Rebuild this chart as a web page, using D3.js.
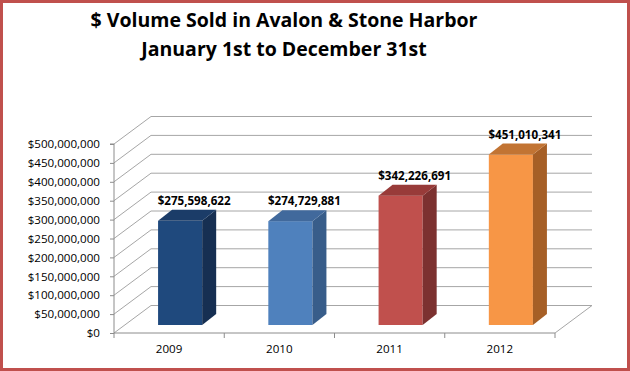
<!DOCTYPE html>
<html>
<head>
<meta charset="utf-8">
<script src="https://cdn.jsdelivr.net/npm/d3@7"></script>
<style>
  body { margin: 0; background: #fff; }
  svg { display: block; }
</style>
</head>
<body>
<svg id="chart"></svg>
<script>
var years = ["2009", "2010", "2011", "2012"];
var volumes = [275598622, 274729881, 342226691, 451010341];
var yTicks = [0, 50000000, 100000000, 150000000, 200000000, 250000000,
              300000000, 350000000, 400000000, 450000000, 500000000];
var titleLines = ["$ Volume Sold in Avalon & Stone Harbor", "January 1st to December 31st"];
var frontColors = ["#1f497d", "#4f81bd", "#c0504d", "#f79646"];
var sideColors = ["#162f52", "#385d8a", "#7c3130", "#a65f26"];
var topColors = ["#1b3c68", "#41699c", "#983b39", "#c27433"];

function drawChart() {
  var width = 630, height = 371;
  var svg = d3.select("#chart").attr("width", width).attr("height", height);

  // wall depth and bar depth offsets
  var wallDx = 37, wallDy = -27.5;
  var barShiftX = 11, barShiftY = -8;
  var barDx = 14, barDy = -11;

  var x = d3.scaleBand().domain(years).range([114, 555]);
  var y = d3.scaleLinear().domain([0, 500000000]).range([333, 144]);
  var fmt = d3.format("$,");
  var grid = "#a6a6a6";

  // left wall diagonals
  svg.append("g").selectAll("line").data(yTicks).enter().append("line")
    .attr("x1", x.range()[0]).attr("y1", function(d) { return y(d); })
    .attr("x2", x.range()[0] + wallDx).attr("y2", function(d) { return y(d) + wallDy; })
    .attr("stroke", grid).attr("stroke-width", 1);

  // back wall gridlines
  svg.append("g").selectAll("line").data(yTicks).enter().append("line")
    .attr("x1", x.range()[0] + wallDx).attr("y1", function(d) { return y(d) + wallDy; })
    .attr("x2", x.range()[1] + wallDx).attr("y2", function(d) { return y(d) + wallDy; })
    .attr("stroke", grid).attr("stroke-width", 1);

  // floor right edge
  svg.append("line")
    .attr("x1", x.range()[1]).attr("y1", y(0))
    .attr("x2", x.range()[1] + wallDx).attr("y2", y(0) + wallDy)
    .attr("stroke", grid).attr("stroke-width", 1);

  // y axis
  var yAxis = d3.axisLeft(y).tickValues(yTicks).tickFormat(fmt).tickSize(4).tickPadding(10);
  var gy = svg.append("g").attr("transform", "translate(" + x.range()[0] + ",0)").call(yAxis);
  gy.select(".domain").attr("stroke", "#8c8c8c").attr("d", "M-4," + y(500000000) + "H0V" + y(0));
  gy.selectAll(".tick line").attr("stroke", "#8c8c8c");
  gy.selectAll("text").attr("font-family", "Open Sans").attr("font-size", "11.6px").attr("fill", "#000");

  // x axis
  var xAxis = d3.axisBottom(x).tickSize(0).tickPadding(12);
  var gx = svg.append("g").attr("transform", "translate(0," + y(0) + ")").call(xAxis);
  gx.select(".domain").attr("stroke", "#8c8c8c").attr("d", "M" + x.range()[0] + ",0H" + x.range()[1]);
  gx.selectAll("text").attr("font-family", "Open Sans").attr("font-size", "11.6px").attr("fill", "#000");
  svg.append("g").selectAll("line").data(years).enter().append("line")
    .attr("x1", function(d) { return x(d) + x.bandwidth(); })
    .attr("x2", function(d) { return x(d) + x.bandwidth(); })
    .attr("y1", y(0)).attr("y2", y(0) + 5)
    .attr("stroke", "#8c8c8c");
  svg.append("line").attr("x1", x.range()[0]).attr("x2", x.range()[0])
    .attr("y1", y(0)).attr("y2", y(0) + 5).attr("stroke", "#8c8c8c");

  // bars
  var bw = x.bandwidth() * 0.4;
  var bars = svg.append("g").selectAll("g").data(years).enter().append("g");
  bars.each(function(d, i) {
    var g = d3.select(this);
    var x0 = x(d) + (x.bandwidth() - bw) / 2 + barShiftX;
    var x1 = x0 + bw;
    var yb = y(0) + barShiftY;
    var yt = y(volumes[i]) + barShiftY;
    g.append("rect").attr("x", x0).attr("y", yt).attr("width", bw).attr("height", yb - yt)
      .attr("fill", frontColors[i]);
    g.append("path")
      .attr("d", "M" + x1 + "," + yt + "L" + (x1 + barDx) + "," + (yt + barDy) +
                 "L" + (x1 + barDx) + "," + (yb + barDy) + "L" + x1 + "," + yb + "Z")
      .attr("fill", sideColors[i]);
    g.append("path")
      .attr("d", "M" + x0 + "," + yt + "L" + (x0 + barDx) + "," + (yt + barDy) +
                 "L" + (x1 + barDx) + "," + (yt + barDy) + "L" + x1 + "," + yt + "Z")
      .attr("fill", topColors[i]);
    g.append("text")
      .attr("x", x0 + bw / 2 + barDx)
      .attr("y", yt + barDy - 5)
      .attr("text-anchor", "middle")
      .attr("font-family", "Open Sans").attr("font-weight", "bold").attr("font-size", "11.6px")
      .text(fmt(volumes[i]));
  });

  // title
  svg.append("g").selectAll("text").data(titleLines).enter().append("text")
    .attr("x", 284).attr("y", function(d, i) { return 27 + i * 28.5; })
    .attr("text-anchor", "middle")
    .attr("font-family", "Open Sans").attr("font-weight", "bold").attr("font-size", "19.5px")
    .text(function(d) { return d; });

  // border
  svg.append("rect").attr("x", 1.5).attr("y", 1.5).attr("width", width - 3).attr("height", height - 3)
    .attr("fill", "none").attr("stroke", "#c0504d").attr("stroke-width", 3);
}

drawChart();
</script>
</body>
</html>
